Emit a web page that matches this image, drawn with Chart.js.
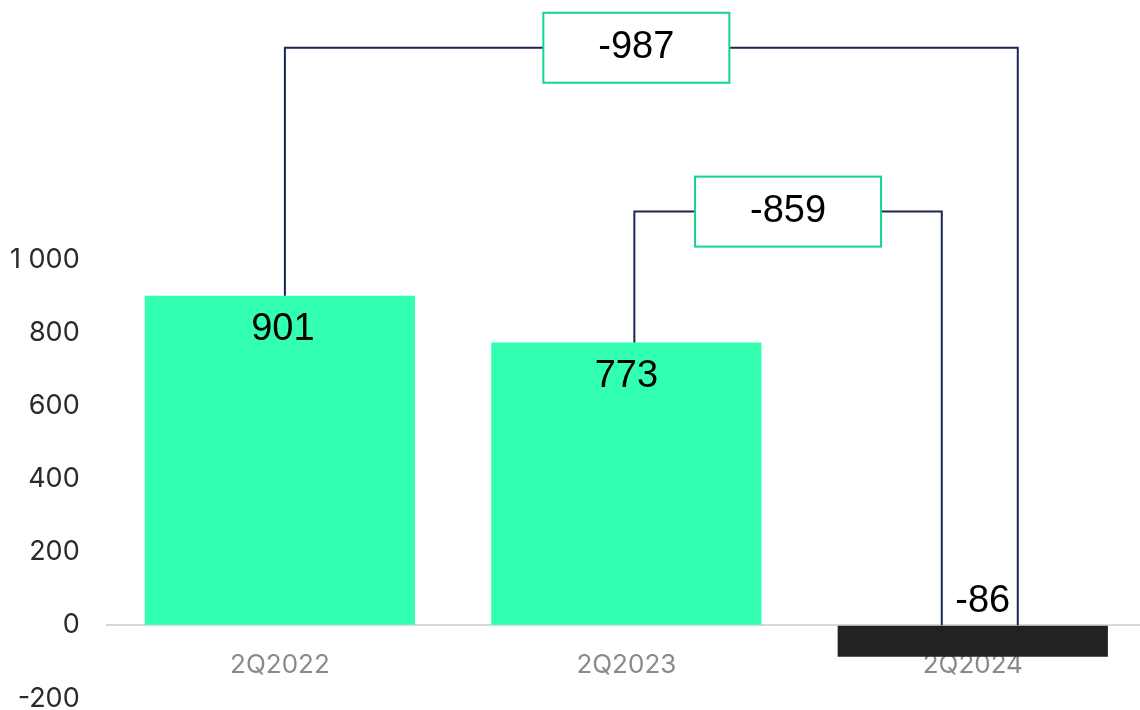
<!DOCTYPE html>
<html>
<head>
<meta charset="utf-8">
<script src="https://cdn.jsdelivr.net/npm/chart.js@4/dist/chart.umd.min.js"></script>
<style>
  html, body { margin: 0; padding: 0; background: #fff; overflow: hidden; }
  #wrap { width: 1146px; height: 710px; position: relative; }
</style>
</head>
<body>
<div id="wrap"><canvas id="chart"></canvas></div>
<script>
const categories = ["2Q2022", "2Q2023", "2Q2024"];
const values = [901, 773, -86];
const yTicks = [-200, 0, 200, 400, 600, 800, 1000];
// change between two quarters, shown in the boxes above
const changes = [
  { from: 0, to: 2, label: "-987" },
  { from: 1, to: 2, label: "-859" }
];

const barColors = values.map(v => v >= 0 ? "#33ffb1" : "#222222");

function fmt(v) {
  return String(v).replace(/\B(?=(\d{3})+(?!\d))/g, " ");
}

// bracket geometry (levels in axis units, offsets in px from bar centres)
const bracketStyle = [
  { level: 1579, fromDx: 5, toDx: 45, boxDx: -15 },
  { level: 1131, fromDx: 8, toDx: -31, boxDx: 0 }
];
const labelDx = [3, 0, 10];

const annotate = {
  id: "annotate",
  afterDatasetsDraw(chart) {
    const ctx = chart.ctx;
    const bars = chart.getDatasetMeta(0).data;
    const y = chart.scales.y;
    const zero = y.getPixelForValue(0);
    ctx.save();

    // value labels
    ctx.fillStyle = "#000";
    ctx.font = "38px 'Liberation Sans', Arial, sans-serif";
    ctx.textAlign = "center";
    ctx.textBaseline = "middle";
    values.forEach((v, i) => {
      const b = bars[i];
      if (v >= 0) ctx.fillText(String(v), b.x + labelDx[i], b.y + 34);
      else ctx.fillText(String(v), b.x + labelDx[i], zero - 24);
    });

    // change brackets
    changes.forEach((c, k) => {
      const s = bracketStyle[k];
      const x1 = bars[c.from].x + s.fromDx;
      const x2 = bars[c.to].x + s.toDx;
      const top = y.getPixelForValue(s.level);
      ctx.strokeStyle = "#1c2656";
      ctx.lineWidth = 2;
      ctx.beginPath();
      ctx.moveTo(x1, bars[c.from].y);
      ctx.lineTo(x1, top);
      ctx.lineTo(x2, top);
      ctx.lineTo(x2, zero);
      ctx.stroke();

      const bw = 186, bh = 70;
      const cx = (x1 + x2) / 2 + s.boxDx;
      ctx.fillStyle = "#fff";
      ctx.fillRect(cx - bw / 2, top - bh / 2, bw, bh);
      ctx.strokeStyle = "#12d68a";
      ctx.strokeRect(cx - bw / 2, top - bh / 2, bw, bh);
      ctx.fillStyle = "#000";
      ctx.fillText(c.label, cx, top);
    });
    ctx.restore();
  }
};

new Chart(document.getElementById("chart"), {
  type: "bar",
  data: {
    labels: categories,
    datasets: [{
      data: values,
      backgroundColor: barColors,
      borderWidth: 0,
      barPercentage: 0.78,
      categoryPercentage: 1
    }]
  },
  options: {
    responsive: true,
    maintainAspectRatio: false,
    animation: false,
    layout: { padding: { left: 10, right: 0, top: 0, bottom: 0 } },
    plugins: { legend: { display: false }, tooltip: { enabled: false } },
    scales: {
      x: {
        position: { y: 0 },
        grid: { display: false },
        border: { display: true, color: "#d9d9d9", width: 2 },
        ticks: {
          color: "#8a8a8a",
          padding: 16,
          font: { family: "Inter", size: 26 }
        }
      },
      y: {
        min: -202,
        max: 1680,
        grid: {
          display: true,
          drawOnChartArea: false,
          drawTicks: true,
          tickLength: 27,
          tickColor: "rgba(0,0,0,0)"
        },
        border: { display: false },
        afterBuildTicks(axis) {
          axis.ticks = yTicks.map(v => ({ value: v }));
        },
        ticks: {
          color: "#2a2a2a",
          padding: 0,
          font: { family: "Inter", size: 27, lineHeight: 0.8 },
          callback: v => fmt(v)
        }
      }
    }
  },
  plugins: [annotate]
});
</script>
</body>
</html>
